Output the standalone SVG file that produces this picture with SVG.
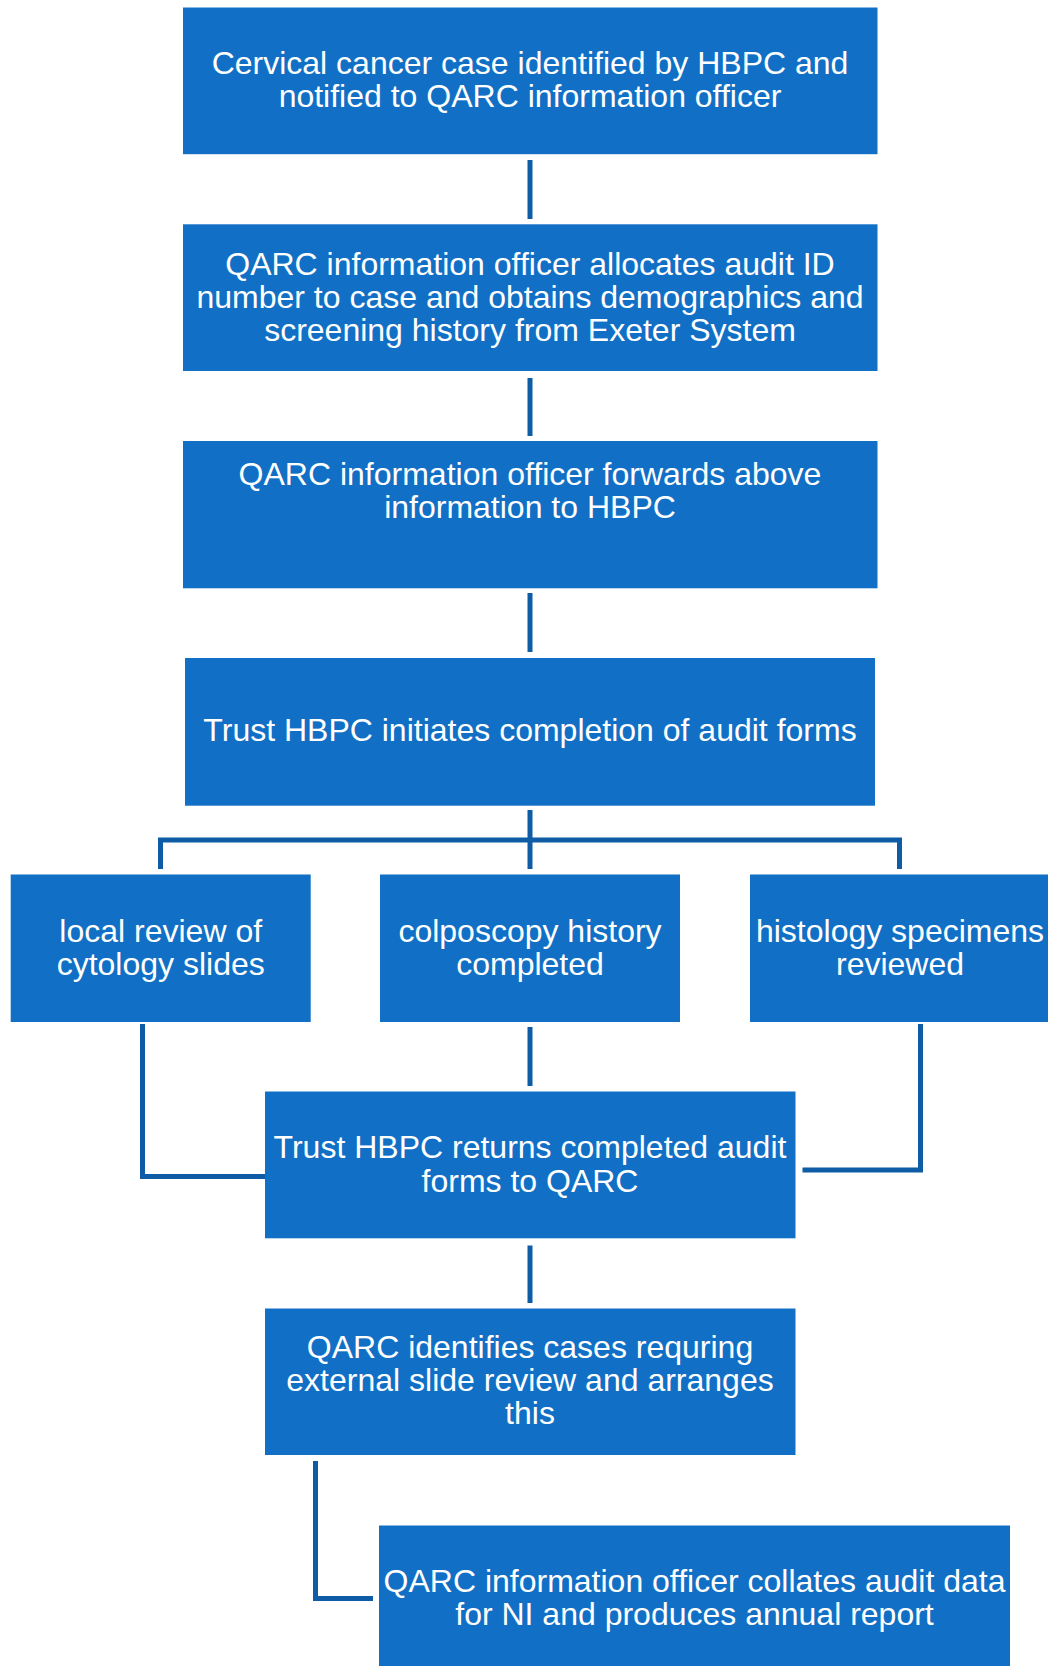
<svg xmlns="http://www.w3.org/2000/svg" width="1048" height="1666" viewBox="0 0 1048 1666">
<style>
.box{fill:#1170C5}
.t{font-family:"Liberation Sans",Arial,sans-serif;font-size:32px;fill:#ffffff;text-anchor:middle}
.c{fill:none;stroke:#0D5CA5;stroke-width:5;stroke-linejoin:miter;stroke-linecap:butt}
</style>
<rect width="1048" height="1666" fill="#ffffff"/>
<g id="connectors">
<line class="c" x1="530" y1="160" x2="530" y2="219"/>
<line class="c" x1="530" y1="378" x2="530" y2="436"/>
<line class="c" x1="530" y1="593" x2="530" y2="652"/>
<line class="c" x1="530" y1="810" x2="530" y2="869"/>
<polyline class="c" points="160.5,869 160.5,840 899.5,840 899.5,869"/>
<polyline class="c" points="142.5,1024 142.5,1176.5 265,1176.5"/>
<line class="c" x1="530" y1="1027" x2="530" y2="1086"/>
<polyline class="c" points="920.5,1024 920.5,1170 802.5,1170"/>
<line class="c" x1="530" y1="1245.5" x2="530" y2="1303"/>
<polyline class="c" points="315.5,1461 315.5,1598.5 373,1598.5"/>
</g>
<g id="n1"><rect class="box" x="183" y="7.5" width="694.5" height="146.7"/>
<text class="t" x="530" y="74">Cervical cancer case identified by HBPC and</text>
<text class="t" x="530" y="107">notified to QARC information officer</text></g>
<g id="n2"><rect class="box" x="183" y="224.3" width="694.5" height="146.7"/>
<text class="t" x="530" y="274.5">QARC information officer allocates audit ID</text>
<text class="t" x="530" y="307.5">number to case and obtains demographics and</text>
<text class="t" x="530" y="340.5">screening history from Exeter System</text></g>
<g id="n3"><rect class="box" x="183" y="441" width="694.5" height="147.3"/>
<text class="t" x="530" y="484.5">QARC information officer forwards above</text>
<text class="t" x="530" y="517.5">information to HBPC</text></g>
<g id="n4"><rect class="box" x="185" y="658" width="690" height="147.7"/>
<text class="t" x="530" y="741">Trust HBPC initiates completion of audit forms</text></g>
<g id="n5"><rect class="box" x="10.7" y="874.5" width="300" height="147.5"/>
<text class="t" x="160.7" y="941.5">local review of</text>
<text class="t" x="160.7" y="974.5">cytology slides</text></g>
<g id="n6"><rect class="box" x="380" y="874.5" width="300" height="147.5"/>
<text class="t" x="530" y="941.5">colposcopy history</text>
<text class="t" x="530" y="974.5">completed</text></g>
<g id="n7"><rect class="box" x="750" y="874.5" width="300" height="147.5"/>
<text class="t" x="900" y="941.5">histology specimens</text>
<text class="t" x="900" y="974.5">reviewed</text></g>
<g id="n8"><rect class="box" x="265" y="1091.5" width="530.5" height="146.8"/>
<text class="t" x="530" y="1158">Trust HBPC returns completed audit</text>
<text class="t" x="530" y="1191.5">forms to QARC</text></g>
<g id="n9"><rect class="box" x="265" y="1308.5" width="530.5" height="146.5"/>
<text class="t" x="530" y="1358">QARC identifies cases requring</text>
<text class="t" x="530" y="1391">external slide review and arranges</text>
<text class="t" x="530" y="1424">this</text></g>
<g id="n10"><rect class="box" x="379" y="1525.5" width="631" height="150"/>
<text class="t" x="694.5" y="1592">QARC information officer collates audit data</text>
<text class="t" x="694.5" y="1625">for NI and produces annual report</text></g>
</svg>
